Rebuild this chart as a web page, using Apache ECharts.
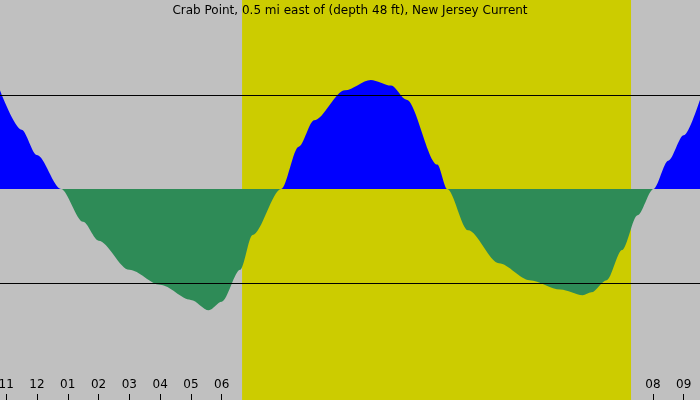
<!DOCTYPE html>
<html><head><meta charset="utf-8">
<script src="https://cdn.jsdelivr.net/npm/echarts@6/dist/echarts.min.js"></script>
<style>html,body{margin:0;padding:0;background:#c0c0c0}#c{width:700px;height:400px}</style>
</head><body><div id="c"></div>
<script>
const title = "Crab Point, 0.5 mi east of (depth 48 ft), New Jersey Current";
const hours = [-1.2,-0.5,0,0.78,1.5,2,3,4,5,5.58,6,6.6,7,7.93,8.5,9,10,10.84,11.5,12,13,13.32,14,15,16,17,17.72,18,18.5,19,19.5,20.02,20.5,21,21.53];
const speed = [1.05,0.63,0.36,0,-0.35,-0.55,-0.86,-1.02,-1.18,-1.29,-1.2,-0.86,-0.49,0,0.45,0.73,1.05,1.16,1.1,0.95,0.26,0,-0.44,-0.79,-0.97,-1.07,-1.13,-1.1,-0.97,-0.65,-0.28,0,0.3,0.57,0.95];
const daylight = [6.66, 19.29];
const topEvents = [[5.58,"Sep 09\n05:35"],[10.84,"Sep 09\n10:50"],[17.72,"Sep 09\n17:43"]];
const bottomEvents = [[0.78,"Slack\n00:47"],[4.73,"Mrise\n04:44"],[7.93,"Slack\n07:56"],[13.32,"Slack\n13:19"],[18.58,"Mset\n18:35"],[20.02,"Slack\n20:01"]];
const hourTicks = [-1,0,1,2,3,4,5,6,7,8,9,10,11,12,13,14,15,16,17,18,19,20,21];
const yTicks = [[1,"1 kt"],[0,"0 kt"],[-1,"-1 kt"]];

const pos = hours.map((h,i)=>[h, Math.max(speed[i],0)]);
const neg = hours.map((h,i)=>[h, Math.min(speed[i],0)]);
const fmt = v => { let h=((Math.round(v)%12)+12)%12; if(h===0) h=12; return (h<10?'0':'')+h; };
const font = {fontFamily:'DejaVu Sans', fontSize:12, color:'#000'};
const txt = {show:true,position:'inside',...font,lineHeight:12};

const chart = echarts.init(document.getElementById('c'));
chart.setOption({
  backgroundColor:'#c0c0c0',
  animation:false,
  title:{text:title,left:'center',top:0,textStyle:{...font,fontWeight:'normal'}},
  grid:{left:0,right:0,top:0,bottom:0,outerBoundsMode:'none',containLabel:false},
  xAxis:{type:'value',min:-1.2,max:21.53,splitLine:{show:false},
    axisLine:{show:false,onZero:false},
    axisTick:{show:true,customValues:hourTicks,length:6,inside:true,lineStyle:{color:'#000'}},
    axisLabel:{customValues:hourTicks,formatter:fmt,...font,inside:true,margin:9}},
  yAxis:{type:'value',min:-2.245,max:2.01,show:false},
  series:[
    {type:'line',data:pos,smooth:0.3,smoothMonotone:'x',symbol:'none',lineStyle:{width:0},areaStyle:{color:'#0000ff',opacity:1,origin:0},z:3,
     markArea:{silent:true,itemStyle:{color:'#cccc00'},data:[[{xAxis:daylight[0]},{xAxis:daylight[1]}]]},
     markLine:{silent:true,symbol:'none',label:{show:false},lineStyle:{color:'#000',width:1,type:'solid'},data:[{yAxis:1},{yAxis:-1}]}},
    {type:'line',data:neg,smooth:0.3,smoothMonotone:'x',symbol:'none',lineStyle:{width:0},areaStyle:{color:'#2e8b57',opacity:1,origin:0},z:3},
    {type:'scatter',symbol:'circle',symbolSize:1,itemStyle:{opacity:0},z:5,data:topEvents.map(e=>({value:[e[0],1.72],label:{formatter:e[1]}})),label:txt},
    {type:'scatter',symbol:'circle',symbolSize:1,itemStyle:{opacity:0},z:5,data:bottomEvents.map(e=>({value:[e[0],-1.92],label:{formatter:e[1]}})),label:txt},
    {type:'scatter',symbol:'circle',symbolSize:1,itemStyle:{opacity:0},z:5,data:yTicks.map(t=>({value:[-1.2,t[0]],label:{formatter:t[1]+' -'}})),
     label:{show:true,position:'right',offset:[-2,0],...font}}
  ]
});
</script></body></html>
